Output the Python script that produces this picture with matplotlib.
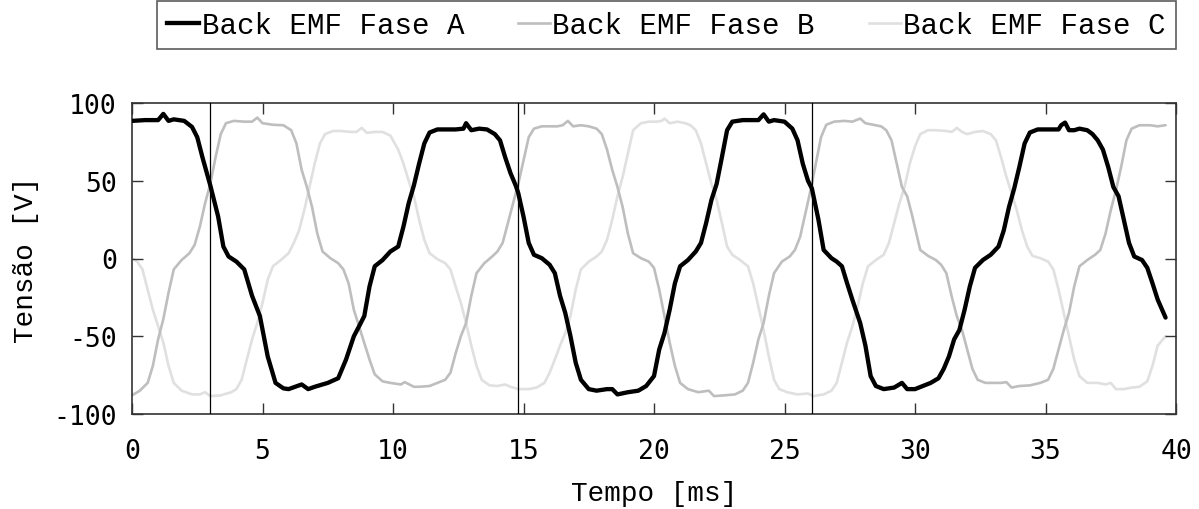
import numpy as np
import matplotlib
matplotlib.use('Agg')
import matplotlib.pyplot as plt
from matplotlib.lines import Line2D

# Back EMF, fase A (tempo em ms, tensão em V)
t_a = [0.0, 0.5, 1.0, 1.2, 1.4, 1.6, 2.0, 2.3, 2.5, 2.7, 3.0, 3.3, 3.5, 3.7, 4.0, 4.3, 4.6, 4.9,
       5.2, 5.5, 5.8, 6.0, 6.5, 6.75, 7.0, 7.5, 7.9, 8.2, 8.5, 8.7, 8.9, 9.1, 9.3, 9.6, 9.9,
       10.2, 10.4, 10.6, 10.8, 11.0, 11.2, 11.4, 11.7, 12.0, 12.4, 12.7, 12.8, 13.0, 13.3, 13.6,
       13.9, 14.1, 14.3, 14.5, 14.7, 14.8, 15.0, 15.2, 15.4, 15.7, 16.0, 16.2, 16.4, 16.6, 16.8,
       17.0, 17.2, 17.5, 17.8, 18.2, 18.4, 18.6, 19.0, 19.4, 19.7, 20.0, 20.2, 20.4, 20.6, 20.8,
       21.0, 21.3, 21.6, 21.8, 22.0, 22.2, 22.4, 22.6, 22.8, 23.0, 23.4, 23.8, 24.0, 24.2, 24.4,
       24.6, 25.0, 25.3, 25.5, 25.7, 25.9, 26.05, 26.3, 26.5, 26.8, 27.0, 27.2, 27.4, 27.6, 27.9,
       28.1, 28.3, 28.5, 28.8, 29.2, 29.5, 29.7, 30.0, 30.3, 30.6, 30.9, 31.1, 31.3, 31.5, 31.7,
       31.9, 32.1, 32.3, 32.6, 32.9, 33.2, 33.4, 33.6, 33.8, 34.0, 34.2, 34.4, 34.7, 35.0, 35.3,
       35.5, 35.6, 35.75, 35.9, 36.1, 36.3, 36.6, 36.8, 37.0, 37.2, 37.4, 37.6, 37.8, 38.0, 38.2,
       38.4, 38.7, 38.9, 39.1, 39.3, 39.6]
v_a = [88.5, 89, 89, 93, 88.5, 89.5, 88.5, 84.6, 78, 65, 47, 27, 7.7, 1.3, -2, -7, -24, -37,
       -63, -80, -83.5, -84, -81, -84, -82.5, -80, -77, -65, -50, -43.6, -37, -18, -5, -1, 4.5,
       7.7, 20.5, 35.5, 47, 61, 74, 81, 83, 83, 83, 83.5, 87, 82.5, 83.5, 83,
       80, 76, 65, 55, 47, 42, 27, 10, 2.4, 0.2, -4, -9.4, -24, -35, -50,
       -67, -78, -84, -85, -84, -84, -87.4, -86, -85, -82, -75.6, -58.5, -48, -33, -16,
       -5, -1, 4.5, 10, 23, 37.6, 48, 65, 82.5, 88, 89, 89, 89, 92.7, 88,
       89, 88, 83.5, 76, 61, 50, 45, 25, 5.5, 0.2, -2, -5, -16, -26.5, -41.5,
       -56, -75.6, -82, -84, -83, -80, -84, -84, -82, -80, -77, -71, -63, -52, -46,
       -33, -18, -6, -1, 2.4, 7.7, 18, 33, 45, 59, 74, 81, 83, 83, 83,
       83, 85.7, 87.4, 82.5, 82.5, 83.5, 82.5, 80, 76, 70, 59, 46, 40, 25, 10,
       1.3, -1, -6, -16, -26.5, -38]

# Back EMF, fase B
t_b = [0.0, 0.3, 0.6, 0.8, 1.0, 1.2, 1.4, 1.6, 1.9, 2.2, 2.4, 2.6, 2.8, 3.0, 3.2, 3.4, 3.6, 3.9,
       4.3, 4.6, 4.8, 5.0, 5.4, 5.8, 6.1, 6.3, 6.5, 6.7, 6.9, 7.1, 7.3, 7.6, 7.9, 8.1, 8.3, 8.5,
       8.7, 8.9, 9.1, 9.3, 9.6, 9.9, 10.3, 10.45, 10.8, 11.0, 11.4, 11.7, 12.0, 12.2, 12.4, 12.6,
       12.8, 13.0, 13.2, 13.5, 13.8, 14.0, 14.2, 14.4, 14.6, 14.8, 15.0, 15.2, 15.4, 15.7, 16.0,
       16.3, 16.5, 16.7, 16.9, 17.2, 17.5, 17.8, 18.0, 18.2, 18.4, 18.6, 18.8, 19.0, 19.2, 19.5,
       19.8, 20.0, 20.2, 20.4, 20.6, 20.8, 21.0, 21.3, 21.7, 22.1, 22.3, 22.7, 23.1, 23.4, 23.6,
       23.8, 24.0, 24.2, 24.4, 24.6, 24.9, 25.2, 25.4, 25.6, 25.8, 26.0, 26.2, 26.4, 26.6, 26.9,
       27.3, 27.6, 27.9, 28.1, 28.4, 28.7, 28.9, 29.1, 29.3, 29.5, 29.7, 29.9, 30.2, 30.5, 30.8,
       31.0, 31.2, 31.4, 31.6, 31.8, 32.0, 32.2, 32.4, 32.7, 33.0, 33.3, 33.5, 33.7, 34.0, 34.4,
       34.8, 35.1, 35.3, 35.5, 35.7, 35.9, 36.1, 36.3, 36.6, 36.9, 37.1, 37.3, 37.5, 37.7, 37.9,
       38.1, 38.3, 38.6, 39.0, 39.3, 39.6]
v_b = [-88, -85, -80, -69, -52, -39, -22, -7, -1, 3.4, 8.8, 20.5, 35.5, 48, 65, 80, 87, 88.5,
       88, 88, 90.6, 87, 86, 85.7, 82.5, 74, 57, 46, 33, 16, 4.5, 0.2, -3, -7, -16, -33,
       -43.6, -54, -65, -74.5, -79, -80, -81, -79.5, -82.5, -82.5, -82, -80, -78, -73.5, -61, -50,
       -41.5, -24, -9.4, -3, 1.3, 4.5, 10, 22.6, 35.5, 48, 63, 78, 83.5, 85, 85,
       85, 85.7, 88.5, 85, 85.7, 85, 83.5, 80, 70, 57, 46, 33, 16, 3.4, 0.2,
       -2, -6, -20, -37, -54, -69, -80, -84, -86, -85, -88.5, -88, -87.4, -85, -80,
       -67, -52, -41.5, -24, -9.4, -2, 1.3, 5.5, 14, 29, 44, 61, 78, 86, 88,
       88.5, 88, 90, 87, 86, 85, 82.5, 76, 61, 46, 40, 27, 5.5, 1.7, -1,
       -4, -9.4, -24, -37, -46, -58.5, -71, -78, -80, -80, -80, -79.5, -83, -82, -81.6,
       -80, -78, -71, -58.5, -46, -35, -18, -5, -1, 2.4, 5.5, 16, 31, 44, 59,
       76, 83.5, 85.7, 85.7, 85, 85.7]

# Back EMF, fase C
t_c = [0.0, 0.2, 0.4, 0.6, 0.8, 1.0, 1.2, 1.4, 1.6, 1.9, 2.3, 2.6, 2.8, 3.0, 3.4, 3.8, 4.0, 4.2,
       4.4, 4.6, 4.8, 5.0, 5.2, 5.4, 5.7, 6.0, 6.2, 6.4, 6.6, 6.8, 7.0, 7.2, 7.4, 7.7, 8.0, 8.4,
       8.6, 8.8, 9.0, 9.3, 9.6, 9.9, 10.2, 10.4, 10.6, 10.8, 11.0, 11.2, 11.4, 11.7, 12.0, 12.2,
       12.4, 12.6, 12.8, 13.0, 13.2, 13.4, 13.7, 14.0, 14.3, 14.5, 14.8, 15.2, 15.5, 15.8, 16.0,
       16.2, 16.4, 16.6, 16.8, 17.0, 17.2, 17.5, 17.8, 18.0, 18.2, 18.4, 18.6, 18.8, 19.0, 19.2,
       19.5, 19.8, 20.1, 20.3, 20.4, 20.6, 20.9, 21.2, 21.4, 21.6, 21.8, 22.0, 22.2, 22.4, 22.6,
       22.8, 23.0, 23.3, 23.6, 23.8, 24.0, 24.2, 24.4, 24.6, 24.8, 25.1, 25.5, 25.9, 26.1, 26.5,
       26.8, 27.0, 27.2, 27.4, 27.6, 27.8, 28.0, 28.2, 28.5, 28.8, 29.0, 29.2, 29.4, 29.6, 29.8,
       30.0, 30.2, 30.5, 30.8, 31.2, 31.4, 31.5, 31.6, 31.8, 32.0, 32.3, 32.6, 32.9, 33.1, 33.3,
       33.5, 33.7, 33.9, 34.1, 34.3, 34.5, 34.8, 35.1, 35.3, 35.5, 35.7, 35.9, 36.1, 36.3, 36.6,
       37.0, 37.3, 37.5, 37.7, 38.0, 38.3, 38.6, 38.9, 39.1, 39.3, 39.6]
v_c = [0.2, -2, -7, -20, -33, -43.6, -54, -69, -80, -85, -87.4, -87.4, -86, -88.5, -88, -86, -84, -78,
       -65, -52, -41.5, -28.6, -13.7, -5, -1, 3.4, 10, 18, 31, 46, 61, 74, 80, 82, 82, 81.4,
       81.4, 84, 80.8, 81.4, 81.4, 79, 70, 61, 50, 40, 25, 12, 3.4, -0.4, -3, -7,
       -18, -28.6, -41.5, -56, -69, -78, -81.6, -82, -81, -82.5, -84, -84, -83, -80, -73.5,
       -65, -56, -48, -37, -20, -7, -2, 1.3, 4.5, 12, 25, 40, 52.6, 67.5, 82.5,
       87, 88, 88, 88.5, 90, 87, 88, 87, 85.7, 82.5, 74, 61, 48, 37.6, 23,
       7.7, 2.4, -1, -5, -16, -31, -46, -63, -78, -84, -86, -87.4, -86.8, -88.5, -87.4,
       -85, -80, -67, -54, -43.6, -31, -16, -5, -1, 2.4, 10, 22.6, 35.5, 46, 61,
       72, 80, 82.5, 82.5, 82, 81.4, 82.5, 84, 81.4, 80, 81.4, 82, 80, 76, 65,
       52.6, 42, 31, 18, 7.7, 1.7, 0.2, -2, -7, -20, -35, -50, -65, -75.6, -80,
       -80, -81, -80, -84, -84, -83, -82.5, -79, -69, -56, -50]

# instantes marcados com linhas verticais
marcas = [3.0, 14.78, 26.05]

legendas = ['Back EMF Fase A', 'Back EMF Fase B', 'Back EMF Fase C']
cores = ['#000000', '#bebebe', '#e0e0e0']
larguras = [3.1, 1.9, 1.9]

xticks = [0, 5, 10, 15, 20, 25, 30, 35, 40]
yticks = [-100, -50, 0, 50, 100]

plt.rcParams['axes.unicode_minus'] = False

fig = plt.figure(figsize=(11.99, 5.10), dpi=100)
ax = fig.add_axes([132/1199, 1 - 415/510, (1176 - 132)/1199, (415 - 104)/510])

series = [(t_a, v_a), (t_b, v_b), (t_c, v_c)]
# desenha C e B primeiro para que A fique por cima
for i in [2, 1, 0]:
    t, v = series[i]
    ax.plot(t, v, color=cores[i], lw=larguras[i], solid_joinstyle='round',
            solid_capstyle='round', zorder=3 - i)

for m in marcas:
    ax.axvline(m, color='black', lw=0.9, zorder=5)

ax.set_xlim(0, 40)
ax.set_ylim(-100, 100)
ax.set_xticks(xticks)
ax.set_yticks(yticks)

tick_font = {'family': 'DejaVu Sans Mono', 'size': 19}
ax.set_xticklabels([str(x) for x in xticks], fontdict=tick_font)
ax.set_yticklabels([str(y) for y in yticks], fontdict=tick_font)
ax.tick_params(direction='in', length=8, width=1, top=True, right=True, color='#333333')
ax.tick_params(axis='x', pad=17)
ax.tick_params(axis='y', pad=11)
for s in ax.spines.values():
    s.set_linewidth(1.2)
    s.set_color('#333333')

lab_font = {'family': 'Liberation Mono', 'size': 20}
ax.set_xlabel('Tempo [ms]', fontdict=lab_font, labelpad=12)
ax.set_ylabel('Tensão [V]', fontdict=lab_font, labelpad=10)

handles = [Line2D([], [], color=cores[i], lw=larguras[i]) for i in range(3)]
leg = fig.legend(handles, legendas, loc='upper right', bbox_to_anchor=(1176/1199, 1 - 2/510),
                 ncol=3, frameon=True, fancybox=False, edgecolor='#333333',
                 prop={'family': 'Liberation Mono', 'size': 21},
                 handlelength=1.1, handletextpad=0.08, columnspacing=1.85,
                 borderpad=0.35, borderaxespad=0)
leg.get_frame().set_linewidth(1.2)

fig.savefig('out.png', dpi=100)
